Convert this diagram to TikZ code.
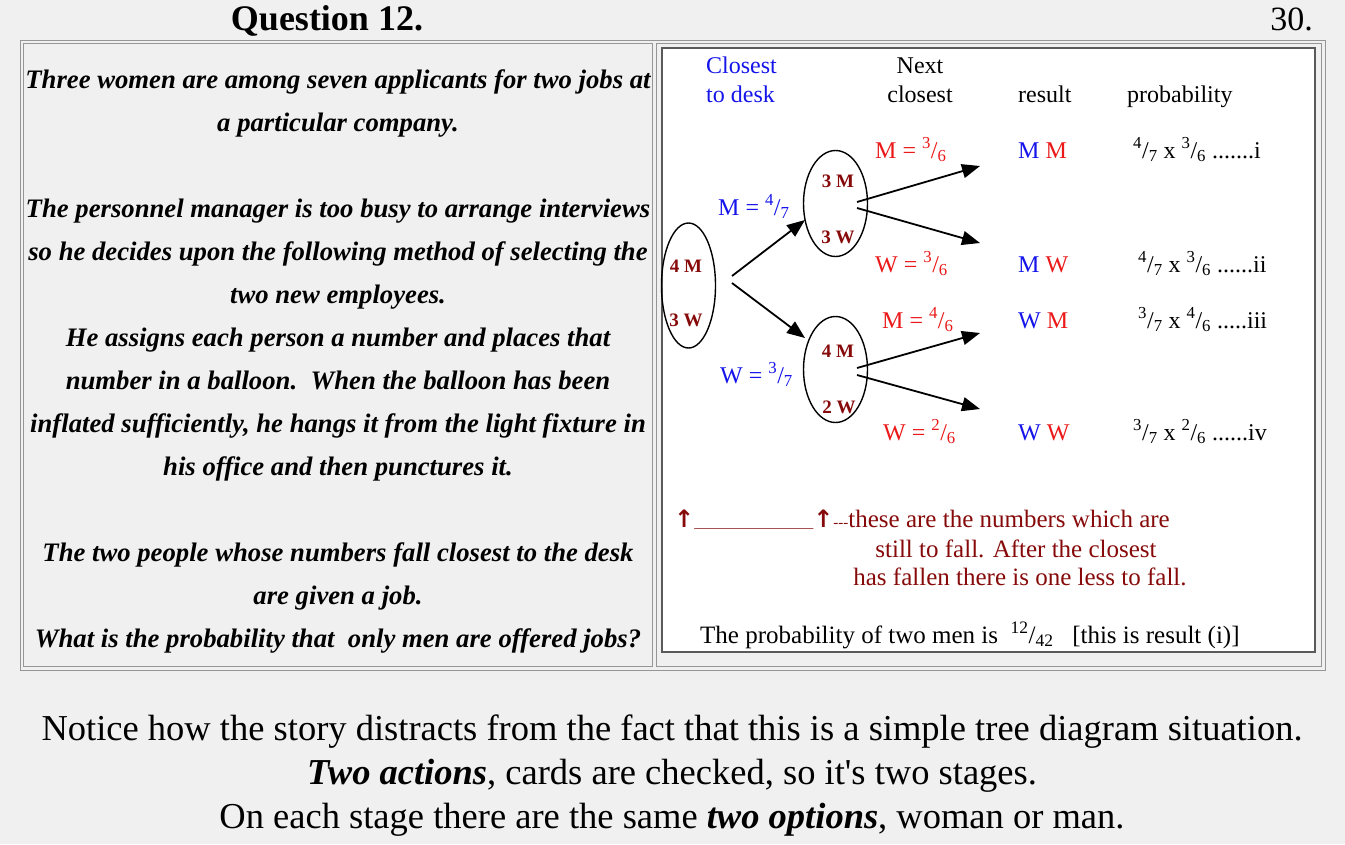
\documentclass[tikz,border=0pt]{standalone}
\usepackage{fontspec}
\setmainfont{Liberation Serif}
\newfontfamily\symfont{DejaVu Sans}
\usetikzlibrary{shapes.geometric,arrows.meta}
\definecolor{bgray}{RGB}{240,240,240}
\definecolor{bordgray}{RGB}{150,150,150}
\definecolor{framegray}{RGB}{90,90,90}
\definecolor{myblue}{RGB}{20,20,235}
\definecolor{myred}{RGB}{235,25,25}
\definecolor{dred}{RGB}{135,10,10}
\newcommand{\fr}[2]{\textsuperscript{#1}/\textsubscript{#2}}
\tikzset{
  lbl/.style={font=\fontsize{24}{28}\selectfont, inner sep=0pt, anchor=base west},
  lbltwo/.style={font=\fontsize{25}{29}\selectfont, inner sep=0pt, anchor=base west},
  lefttxt/.style={font=\fontsize{26.7}{30}\selectfont\bfseries\itshape, inner sep=0pt, anchor=base},
  bottxt/.style={font=\fontsize{36.5}{40}\selectfont, inner sep=0pt, anchor=base},
  oval/.style={draw, ellipse, line width=1.4pt, inner sep=0pt},
  ovtxt/.style={font=\fontsize{19}{22}\selectfont\bfseries, text=dred, inner sep=0pt, anchor=base},
  arr/.style={line width=1.8pt, -{Triangle[length=18pt,width=14pt]}},
}
\begin{document}
\begin{tikzpicture}[x=1pt,y=-1pt]
\useasboundingbox (0,0) rectangle (1345,844);
\fill[bgray] (0,0) rectangle (1345,844);
% table borders
\draw[bordgray, line width=1pt] (20,40) rectangle (1325,670);
\draw[bordgray, line width=1pt] (23.5,43.5) rectangle (652.5,666.5);
\draw[bordgray, line width=1pt] (656.5,43.5) rectangle (1321.5,666.5);
\draw[framegray, line width=2pt, fill=white] (662,47.5) rectangle (1314.5,651.5);
% title
\node[font=\fontsize{36}{40}\selectfont\bfseries, inner sep=0pt, anchor=base] (title) at (327,30) {Question 12.};
\node[font=\fontsize{34}{38}\selectfont, inner sep=0pt, anchor=base east] (pnum) at (1313,30) {30.};
% left text
\node[lefttxt] (l1) at (338,88) {Three women are among seven applicants for two jobs at};
\node[lefttxt] (l2) at (338,131) {a particular company.};
\node[lefttxt] (l3) at (338,217) {The personnel manager is too busy to arrange interviews};
\node[lefttxt] (l4) at (338,260) {so he decides upon the following method of selecting the};
\node[lefttxt] (l5) at (338,303) {two new employees.};
\node[lefttxt] (l6) at (338,346) {He assigns each person a number and places that};
\node[lefttxt] (l7) at (338,389) {number in a balloon.\ \ When the balloon has been};
\node[lefttxt] (l8) at (338,432) {inflated sufficiently, he hangs it from the light fixture in};
\node[lefttxt] (l9) at (338,475) {his office and then punctures it.};
\node[lefttxt] (l10) at (338,561) {The two people whose numbers fall closest to the desk};
\node[lefttxt] (l11) at (338,604) {are given a job.};
\node[lefttxt] (l12) at (338,647) {What is the probability that\ \ only men are offered jobs?};
% headings
\node[lbl, text=myblue] (h1a) at (706,73) {Closest};
\node[lbl, text=myblue] (h1b) at (706,102) {to desk};
\node[lbl, anchor=base] (h2a) at (920,73) {Next};
\node[lbl, anchor=base] (h2b) at (920,102) {closest};
\node[lbl] (h3) at (1018,102) {result};
\node[lbl] (h4) at (1127,102) {probability};
% ovals
\node[oval, minimum width=54pt, minimum height=125pt] (o1) at (688.5,285.5) {};
\node[ovtxt] (o1m) at (686,272) {4 M};
\node[ovtxt] (o1w) at (686,326) {3 W};
\node[oval, minimum width=64pt, minimum height=106pt] (o2) at (835.5,203.5) {};
\node[ovtxt] (o2m) at (838,187) {3 M};
\node[ovtxt] (o2w) at (838,243) {3 W};
\node[oval, minimum width=64pt, minimum height=106pt] (o3) at (835.5,369.5) {};
\node[ovtxt] (o3m) at (838,357) {4 M};
\node[ovtxt] (o3w) at (839,413) {2 W};
% arrow points
\coordinate (s1) at (732,276);
\coordinate (s2) at (732,283);
\coordinate (t1) at (805,220);
\coordinate (t2) at (805,338);
\coordinate (s3) at (857,202);
\coordinate (s4) at (857,208);
\coordinate (t3) at (980,166);
\coordinate (t4) at (980,243);
\coordinate (s5) at (857,368);
\coordinate (s6) at (857,375);
\coordinate (t5) at (980,333);
\coordinate (t6) at (980,409);
\draw[arr] (s1) -- (t1);
\draw[arr] (s2) -- (t2);
\draw[arr] (s3) -- (t3);
\draw[arr] (s4) -- (t4);
\draw[arr] (s5) -- (t5);
\draw[arr] (s6) -- (t6);
% branch labels
\node[lbl, text=myblue] (b1) at (718,215) {M = \fr{4}{7}};
\node[lbl, text=myblue] (b2) at (720,383) {W = \fr{3}{7}};
\node[lbl, text=myred] (b3) at (875,158) {M = \fr{3}{6}};
\node[lbl, text=myred] (b4) at (875,272) {W = \fr{3}{6}};
\node[lbl, text=myred] (b5) at (882,328) {M = \fr{4}{6}};
\node[lbl, text=myred] (b6) at (883,440) {W = \fr{2}{6}};
% results
\node[lbl] (r1) at (1018,158) {\textcolor{myblue}{M} \textcolor{myred}{M}};
\node[lbl] (r2) at (1018,272) {\textcolor{myblue}{M} \textcolor{myred}{W}};
\node[lbl] (r3) at (1018,328) {\textcolor{myblue}{W} \textcolor{myred}{M}};
\node[lbl] (r4) at (1018,440) {\textcolor{myblue}{W} \textcolor{myred}{W}};
% probabilities
\node[lbl] (p1) at (1133,158) {\fr{4}{7} x \fr{3}{6} .......i};
\node[lbl] (p2) at (1138,272) {\fr{4}{7} x \fr{3}{6} ......ii};
\node[lbl] (p3) at (1138,328) {\fr{3}{7} x \fr{4}{6} .....iii};
\node[lbl] (p4) at (1133,440) {\fr{3}{7} x \fr{2}{6} ......iv};
% note
\node[lbltwo, text=dred] (n1) at (674,527) {{\symfont\fontsize{24}{26}\selectfont\bfseries ↑}{\fontsize{14}{16}\selectfont\_\_\_\_\_\_\_\_\_\_\_\_\_\_\_\_\_}{\symfont\fontsize{24}{26}\selectfont\bfseries ↑}{\fontsize{15}{16}\selectfont -{}-{}-}these are the numbers which are};
\node[lbltwo, text=dred, anchor=base] (n2) at (1016,557) {still to fall. After the closest};
\node[lbltwo, text=dred, anchor=base] (n3) at (1020,585) {has fallen there is one less to fall.};
\node[lbltwo] (fin) at (700,643) {The probability of two men is\ \ \fr{12}{42}\ \ \ [this is result (i)]};
% bottom text
\node[bottxt] (bt1) at (672,740) {Notice how the story distracts from the fact that this is a simple tree diagram situation.};
\node[bottxt] (bt2) at (672,784) {\textbf{\textit{Two actions}}, cards are checked, so it\textquotesingle s two stages.};
\node[bottxt] (bt3) at (672,828) {On each stage there are the same \textbf{\textit{two options}}, woman or man.};
\end{tikzpicture}
\end{document}
